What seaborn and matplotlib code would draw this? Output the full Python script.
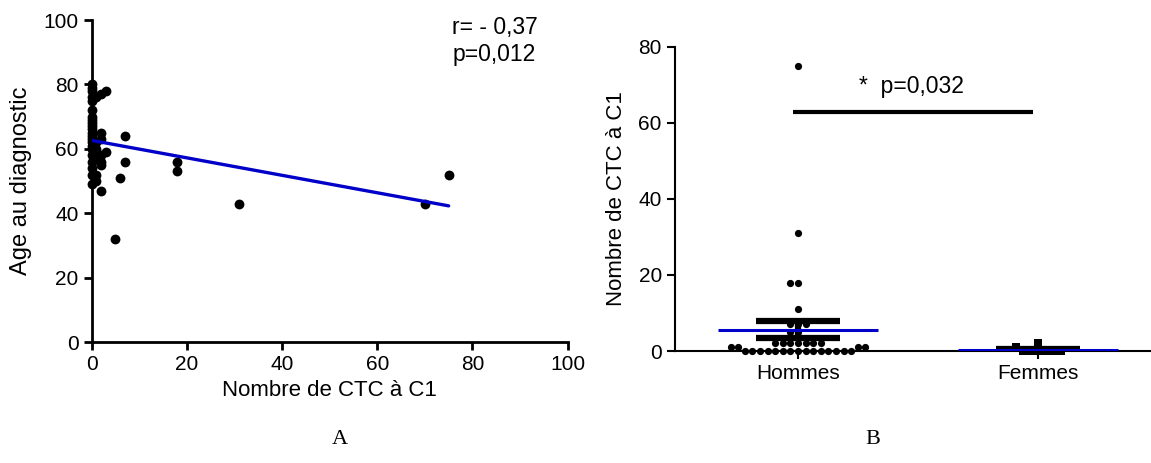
import matplotlib
matplotlib.use("Agg")
import matplotlib.pyplot as plt
import seaborn as sns
import numpy as np
import pandas as pd

# Panel A : nombre de CTC vs age au diagnostic
ctc_a = ([0] * 22 + [1] * 6 + [2] * 7 + [3] * 2
         + [5, 6, 7, 7, 18, 18, 31, 70, 75])
age_a = ([80, 79, 78, 76, 75, 72, 70, 69, 68, 67, 66, 65, 64, 63, 62, 61,
          60, 58, 56, 54, 52, 49]
         + [76, 62, 60, 57, 52, 50]
         + [77, 65, 63, 58, 56, 55, 47]
         + [78, 59]
         + [32, 51, 64, 56, 56, 53, 43, 43, 52])
r_text = "r= - 0,37\np=0,012"

# Panel B : CTC par sexe
groups = ["Hommes", "Femmes"]
ctc_hommes = [0] * 15 + [1] * 4 + [2] * 7 + [5] * 2 + [7] * 3 + [11, 18, 18, 31, 75]
ctc_femmes = [0] * 6 + [1, 2]
p_text = "*  p=0,032"

blue = "#0000C8"

sns.set_style("ticks")
plt.rcParams['font.family'] = ['Liberation Sans', 'DejaVu Sans']
plt.rcParams['xtick.labelsize'] = 15
plt.rcParams['ytick.labelsize'] = 15
for k in ['text.color', 'axes.labelcolor', 'xtick.color', 'ytick.color', 'axes.edgecolor']:
    plt.rcParams[k] = 'black'

fig = plt.figure(figsize=(11.51, 4.63), dpi=100)

##########################################################################################
# A
axA = fig.add_axes([0.0796, 0.2613, 0.4136, 0.6955])
dfA = pd.DataFrame({"ctc": ctc_a, "age": age_a})
sns.regplot(data=dfA, x="ctc", y="age", ci=None, ax=axA,
            scatter_kws=dict(s=50, color="black", alpha=1, linewidths=0,
                             clip_on=False, zorder=3),
            line_kws=dict(color=blue, lw=2.4, zorder=4))
axA.set_xlim(0, 100)
axA.set_ylim(0, 100)
axA.set_xticks(range(0, 101, 20))
axA.set_yticks(range(0, 101, 20))
axA.set_xlabel("Nombre de CTC à C1", fontsize=16, labelpad=4)
axA.set_ylabel("Age au diagnostic", fontsize=17, labelpad=8)
axA.text(75.8, 93.5, r_text, fontsize=16.5, va="center", linespacing=1.25)
for s in ["top", "right"]:
    axA.spines[s].set_visible(False)
for s in ["left", "bottom"]:
    axA.spines[s].set_linewidth(2)
axA.tick_params(width=2, length=6)

##########################################################################################
# B
axB = fig.add_axes([675 / 1151, 0.2419, 1 - 675 / 1151, 0.6566])
dfB = pd.DataFrame({"sexe": ["Hommes"] * len(ctc_hommes) + ["Femmes"] * len(ctc_femmes),
                    "ctc": ctc_hommes + ctc_femmes})
sns.swarmplot(data=dfB[dfB.sexe == "Hommes"], x="sexe", y="ctc", order=groups,
              color="black", size=5.2, marker="o", ax=axB)
sns.swarmplot(data=dfB[dfB.sexe == "Femmes"], x="sexe", y="ctc", order=groups,
              color="black", size=5.2, marker="s", ax=axB)
for c in axB.collections:
    c.set_clip_on(False)
    c.set_zorder(3)

# moyenne et SEM
for i, g in enumerate(groups):
    v = np.array(dfB[dfB.sexe == g].ctc, dtype=float)
    m = v.mean()
    sem = v.std(ddof=1) / np.sqrt(len(v))
    axB.hlines([m - sem, m + sem], i - 0.175, i + 0.175, color="black", lw=4.5, zorder=4)
    axB.vlines(i, m - sem, m + sem, color="black", lw=4.5, zorder=4)
    axB.hlines(m, i - 0.335, i + 0.335, color=blue, lw=2.2, zorder=5)

axB.plot([-0.02, 0.98], [63, 63], color="black", lw=3, solid_capstyle="butt")
axB.text(0.254, 66.5, p_text, fontsize=16.5, va="bottom", ha="left")

axB.set_xlim(-(798 - 675) / 240, (1151 - 798) / 240)
axB.set_ylim(0, 80)
axB.set_yticks(range(0, 81, 20))
axB.set_xlabel("")
axB.set_ylabel("Nombre de CTC à C1", fontsize=16, labelpad=8)
for s in ["top", "right"]:
    axB.spines[s].set_visible(False)
for s in ["left", "bottom"]:
    axB.spines[s].set_linewidth(1.5)
axB.tick_params(width=1.5, length=6)

fig.text(340 / 1151, 1 - 440 / 463, "A", family="Liberation Serif", fontsize=16,
         ha="center", va="center")
fig.text(873 / 1151, 1 - 440 / 463, "B", family="Liberation Serif", fontsize=16,
         ha="center", va="center")

fig.savefig("out.png", dpi=100)
